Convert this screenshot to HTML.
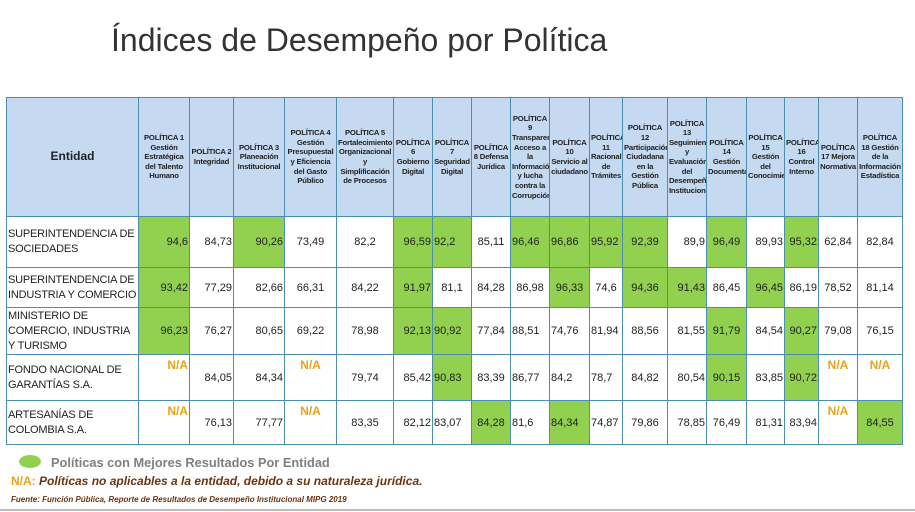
<!DOCTYPE html>
<html><head><meta charset="utf-8"><style>
body{margin:0;width:915px;height:512px;background:#fff;position:relative;overflow:hidden;font-family:"Liberation Sans",sans-serif;}
.title{position:absolute;left:111px;top:22px;font-size:32px;color:#333;}
table{position:absolute;left:6px;top:97px;border-collapse:collapse;table-layout:fixed;width:896px;}
td{border:1px solid #4a8fb0;padding:0 1px;font-size:11px;color:#222;overflow:hidden;}
tr.h td{background:#c5d9f1;font-size:7.7px;font-weight:bold;line-height:9.6px;text-align:center;height:118px;letter-spacing:-0.2px}
tr.h td.e{font-size:12px;letter-spacing:0}
td.n{text-align:left;font-size:11px;line-height:15px;padding-left:1px;letter-spacing:-0.2px}
.g{background:#92d050;}
.r{text-align:right}.c{text-align:center}.l{text-align:left}
.na{color:#e8a317;font-weight:bold;font-size:12px;vertical-align:top;padding-top:3px;text-align:center}
.lg{position:absolute;left:19px;top:455px;width:22px;height:13px;border-radius:50%;background:#92d050;}
.lt{position:absolute;left:51px;top:455px;font-size:12.8px;font-weight:bold;color:#7f7f7f;}
.n2{position:absolute;left:11px;top:474px;font-size:12px;font-style:italic;font-weight:bold;color:#6b3410;}
.n2 b{color:#e8a317;font-style:normal}
.f{position:absolute;left:11px;top:495px;font-size:8px;font-style:italic;font-weight:bold;color:#6b3410;}
.bl{position:absolute;left:0;top:509px;width:915px;height:2px;background:#bbb;}
</style></head><body>
<div class="title">Índices de Desempeño por Política</div>
<table>
<colgroup><col style="width:132px"><col style="width:51px"><col style="width:44px"><col style="width:51px"><col style="width:52px"><col style="width:57px"><col style="width:39px"><col style="width:39px"><col style="width:39px"><col style="width:39px"><col style="width:40px"><col style="width:33px"><col style="width:45px"><col style="width:39px"><col style="width:40px"><col style="width:38px"><col style="width:34px"><col style="width:39px"><col style="width:45px"></colgroup>
<tr class="h"><td class="e">Entidad</td><td>POLÍTICA 1 Gestión Estratégica del Talento Humano</td><td class="l">POLÍTICA 2 Integridad</td><td class="l">POLÍTICA 3 Planeación Institucional</td><td>POLÍTICA 4 Gestión Presupuestal y Eficiencia del Gasto Público</td><td>POLÍTICA 5 Fortalecimiento Organizacional y Simplificación de Procesos</td><td class="l">POLÍTICA 6 Gobierno Digital</td><td class="l">POLÍTICA 7 Seguridad Digital</td><td class="l">POLÍTICA 8 Defensa Jurídica</td><td>POLÍTICA 9 Transparencia, Acceso a la Información y lucha contra la Corrupción</td><td class="l">POLÍTICA 10 Servicio al ciudadano</td><td>POLÍTICA 11 Racionalización de Trámites</td><td>POLÍTICA 12 Participación Ciudadana en la Gestión Pública</td><td>POLÍTICA 13 Seguimiento y Evaluación del Desempeño Institucional</td><td>POLÍTICA 14 Gestión Documental</td><td>POLÍTICA 15 Gestión del Conocimiento</td><td class="l">POLÍTICA 16 Control Interno</td><td class="l">POLÍTICA 17 Mejora Normativa</td><td>POLÍTICA 18 Gestión de la Información Estadística</td></tr>
<tr style="height:51px"><td class="n">SUPERINTENDENCIA DE SOCIEDADES</td><td class="g r">94,6</td><td class="r">84,73</td><td class="g r">90,26</td><td class="c">73,49</td><td class="c">82,2</td><td class="g r">96,59</td><td class="g l">92,2</td><td class="c">85,11</td><td class="g l">96,46</td><td class="g l">96,86</td><td class="g l">95,92</td><td class="g c">92,39</td><td class="r">89,9</td><td class="g c">96,49</td><td class="r">89,93</td><td class="g r">95,32</td><td class="c">62,84</td><td class="c">82,84</td></tr>
<tr style="height:40px"><td class="n">SUPERINTENDENCIA DE INDUSTRIA Y COMERCIO</td><td class="g r">93,42</td><td class="r">77,29</td><td class="r">82,66</td><td class="c">66,31</td><td class="c">84,22</td><td class="g r">91,97</td><td class="c">81,1</td><td class="c">84,28</td><td class="c">86,98</td><td class="g c">96,33</td><td class="c">74,6</td><td class="g c">94,36</td><td class="g r">91,43</td><td class="c">86,45</td><td class="g r">96,45</td><td class="r">86,19</td><td class="c">78,52</td><td class="c">81,14</td></tr>
<tr style="height:47px"><td class="n">MINISTERIO DE COMERCIO, INDUSTRIA Y TURISMO</td><td class="g r">96,23</td><td class="r">76,27</td><td class="r">80,65</td><td class="c">69,22</td><td class="c">78,98</td><td class="g r">92,13</td><td class="g l">90,92</td><td class="c">77,84</td><td class="l">88,51</td><td class="l">74,76</td><td class="l">81,94</td><td class="c">88,56</td><td class="r">81,55</td><td class="g c">91,79</td><td class="r">84,54</td><td class="g r">90,27</td><td class="c">79,08</td><td class="c">76,15</td></tr>
<tr style="height:46px"><td class="n">FONDO NACIONAL DE GARANTÍAS S.A.</td><td class="na" style="text-align:right">N/A</td><td class="r">84,05</td><td class="r">84,34</td><td class="na">N/A</td><td class="c">79,74</td><td class="r">85,42</td><td class="g l">90,83</td><td class="c">83,39</td><td class="l">86,77</td><td class="l">84,2</td><td class="l">78,7</td><td class="c">84,82</td><td class="r">80,54</td><td class="g c">90,15</td><td class="r">83,85</td><td class="g r">90,72</td><td class="na">N/A</td><td class="na">N/A</td></tr>
<tr style="height:44px"><td class="n">ARTESANÍAS DE COLOMBIA S.A.</td><td class="na" style="text-align:right">N/A</td><td class="r">76,13</td><td class="r">77,77</td><td class="na">N/A</td><td class="c">83,35</td><td class="r">82,12</td><td class="l">83,07</td><td class="g c">84,28</td><td class="l">81,6</td><td class="g l">84,34</td><td class="l">74,87</td><td class="c">79,86</td><td class="r">78,85</td><td class="c">76,49</td><td class="r">81,31</td><td class="r">83,94</td><td class="na">N/A</td><td class="g c">84,55</td></tr>
</table>
<div class="lg"></div>
<div class="lt">Políticas con Mejores Resultados Por Entidad</div>
<div class="n2"><b>N/A:</b> Políticas no aplicables a la entidad, debido a su naturaleza jurídica.</div>
<div class="f">Fuente: Función Pública, Reporte de Resultados de Desempeño Institucional MIPG 2019</div>
<div class="bl"></div>
</body></html>
